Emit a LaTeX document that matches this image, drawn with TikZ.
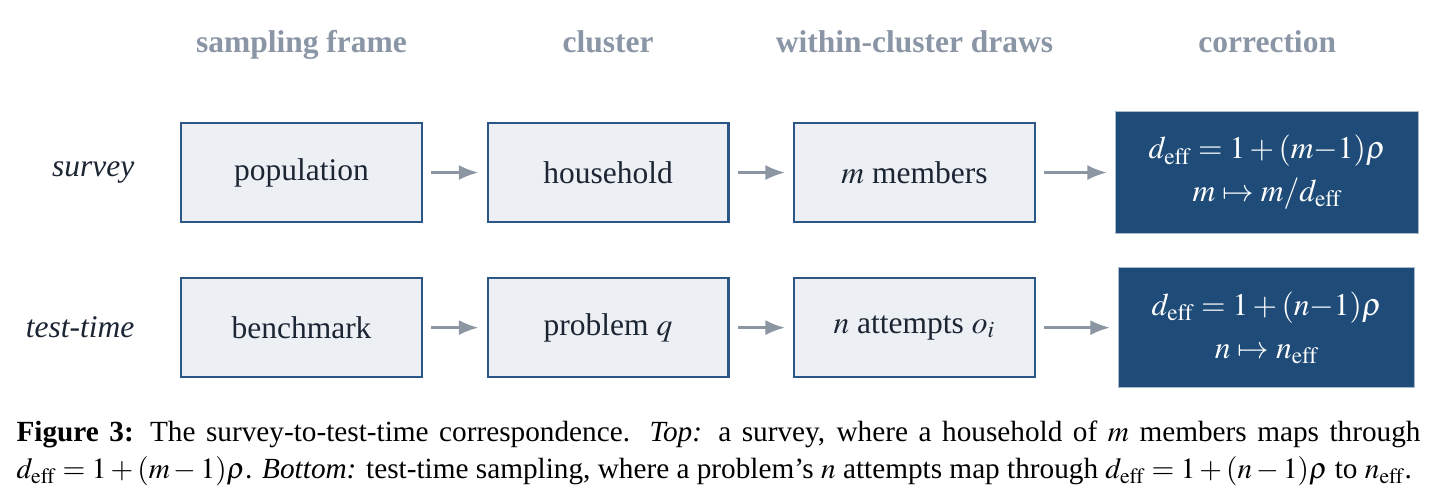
\documentclass[tikz,border=0pt]{standalone}
\usepackage{mathptmx}
\usepackage{fontspec}
\setmainfont{Liberation Serif}
\usetikzlibrary{arrows.meta,positioning}
\definecolor{headgray}{HTML}{8A95A5}
\definecolor{arrowgray}{HTML}{8C96A3}
\definecolor{boxfill}{HTML}{ECF0F4}
\definecolor{boxline}{HTML}{2C5686}
\definecolor{boxtext}{HTML}{1B2533}
\definecolor{darkfill}{HTML}{1F4B78}
\definecolor{darkline}{HTML}{A9BACB}

\begin{document}
\begin{tikzpicture}[
  >=Latex,
  arrow/.style={-{Latex[length=6.5pt,width=5pt]}, draw=arrowgray, line width=0.8pt, shorten <=2.7pt, shorten >=2.7pt},
  box/.style={draw=boxline, line width=0.7pt, fill=boxfill, text=boxtext, minimum width=80.3pt, minimum height=33pt, inner sep=0pt, font=\fontsize{10.5}{12.6}\selectfont},
  corrbox/.style={draw=darkline, line width=0.4pt, fill=darkfill, text=white, align=center, inner xsep=11pt, inner ysep=8pt, font=\fontsize{10.5}{12.6}\selectfont},
  head/.style={text=headgray, font=\fontsize{10.5}{12.6}\selectfont\bfseries},
  rowlabel/.style={text=boxtext, font=\fontsize{10.5}{12.6}\selectfont\itshape},
  caption/.style={text width=468pt, align=justify, inner sep=0pt, font=\fontsize{9.75}{12.3}\selectfont}
]
\useasboundingbox (-60pt,40.67pt) rectangle (419.33pt,-127pt);

\node[box, anchor=north west] (population) at (0,0) {population};
\node[box, right=21.17pt of population] (household) {household};
\node[box, right=21.17pt of household] (members) {$m$ members};
\node[corrbox, right=26.3pt of members] (corrsurvey) {$d_{\mathrm{eff}}=1+(m{-}1)\rho$\\[1.7pt]$m\mapsto m/d_{\mathrm{eff}}$};

\node[box, below=18pt of population] (benchmark) {benchmark};
\node[box, right=21.17pt of benchmark] (problem) {problem $q$};
\node[box, right=21.17pt of problem] (attempts) {$n$ attempts $o_i$};
\node[corrbox, right=27.3pt of attempts] (corrtest) {$d_{\mathrm{eff}}=1+(n{-}1)\rho$\\[1.7pt]$n\mapsto n_{\mathrm{eff}}$};

\node[head, above=23pt of population.north, anchor=base] (frameh) {sampling frame};
\node[head, above=23pt of household.north, anchor=base] (clusterh) {cluster};
\node[head, above=23pt of members.north, anchor=base] (drawsh) {within-cluster draws};
\node[head, anchor=base] (correctionh) at (corrsurvey |- frameh.base) {correction};

\node[rowlabel, left=11.7pt of population] (survey) {survey};
\node[rowlabel, left=11.7pt of benchmark] (testtime) {test-time};

\draw[arrow] (population) -- (household);
\draw[arrow] (household) -- (members);
\draw[arrow] (members) -- (corrsurvey);
\draw[arrow] (benchmark) -- (problem);
\draw[arrow] (problem) -- (attempts);
\draw[arrow] (attempts) -- (corrtest);

\node[caption, below=14pt of benchmark.south west, anchor=north west, xshift=-54.67pt] (cap) {\textbf{Figure 3:} The survey-to-test-time correspondence. \textit{Top:} a survey, where a household of $m$ members maps through\linebreak $d_{\mathrm{eff}}=1+(m-1)\rho$. \textit{Bottom:} test-time sampling, where a problem's $n$ attempts map through $d_{\mathrm{eff}}=1+(n-1)\rho$ to $n_{\mathrm{eff}}$.};

\end{tikzpicture}
\end{document}
